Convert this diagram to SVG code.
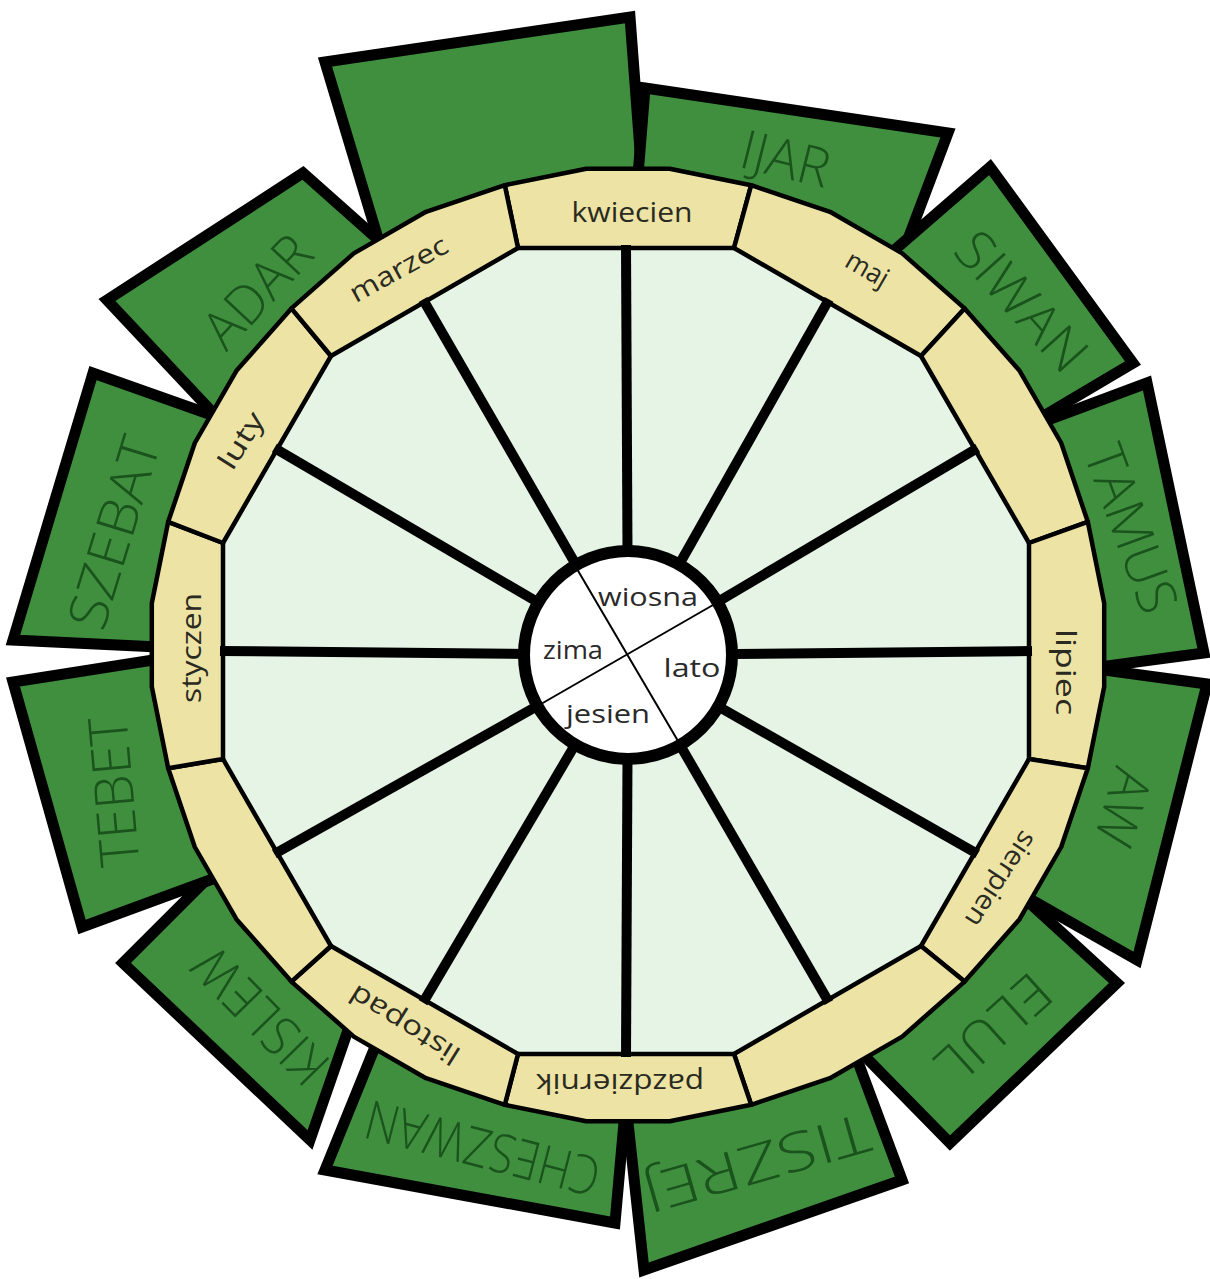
<svg xmlns="http://www.w3.org/2000/svg" width="1210" height="1279" viewBox="0 0 1210 1279">
<style>
.box{fill:#3f8f3f;stroke:#000;stroke-width:11;stroke-linejoin:miter}
.heb{font-family:"Open Sans","Liberation Sans",sans-serif;font-weight:300;font-size:54px;fill:#1a531c;text-anchor:middle;dominant-baseline:central}
.seg{fill:#ece3a5;stroke:#000;stroke-width:4.5;stroke-linejoin:round}
.lbl{font-family:"Open Sans","Liberation Sans",sans-serif;font-size:27px;fill:#2a2a20;text-anchor:middle;dominant-baseline:central}
.ctr{font-family:"Open Sans","Liberation Sans",sans-serif;font-size:25px;fill:#2a2a2a;text-anchor:middle;dominant-baseline:central}
.spoke{stroke:#000;stroke-width:10}
</style>
<rect width="1210" height="1279" fill="#fff"/>
<g id="hebrew-months">
<g id="box-blank"><polygon class="box" points="325,62 630,17 646,230 392,285"/></g>
<g id="box-ijar"><polygon class="box" points="645,88 948,133 885,300 634,225"/><text class="heb" transform="translate(786,157) rotate(14)" textLength="90" lengthAdjust="spacingAndGlyphs">IJAR</text></g>
<g id="box-siwan"><polygon class="box" points="990,167 1133,363 1010,436 860,280"/><text class="heb" transform="translate(1023,300) rotate(48)" textLength="168" lengthAdjust="spacingAndGlyphs">SIWAN</text></g>
<g id="box-tamus"><polygon class="box" points="1147,383 1204,653 1070,671 1010,434"/><text class="heb" transform="translate(1133,528) rotate(70)" textLength="175" lengthAdjust="spacingAndGlyphs">TAMUS</text></g>
<g id="box-aw"><polygon class="box" points="1207,684 1137,960 1000,882 1075,666"/><text class="heb" transform="translate(1125,808) rotate(107)" textLength="78" lengthAdjust="spacingAndGlyphs">AW</text></g>
<g id="box-elul"><polygon class="box" points="1117,983 950,1143 845,1036 1010,885"/><text class="heb" transform="translate(995,1030) rotate(138)" textLength="135" lengthAdjust="spacingAndGlyphs">ELUL</text></g>
<g id="box-tiszrej"><polygon class="box" points="902,1180 644,1270 625,1095 848,1035"/><text class="heb" transform="translate(757,1165) rotate(164)" textLength="233" lengthAdjust="spacingAndGlyphs">TISZREJ</text></g>
<g id="box-cheszwan"><polygon class="box" points="615,1223 325,1170 388,1015 626,1100"/><text class="heb" transform="translate(482,1150) rotate(194.5)" textLength="240" lengthAdjust="spacingAndGlyphs">CHESZWAN</text></g>
<g id="box-kislew"><polygon class="box" points="123,963 310,1140 355,1010 235,851"/><text class="heb" transform="translate(259,1017) rotate(225.7)" textLength="168" lengthAdjust="spacingAndGlyphs">KISLEW</text></g>
<g id="box-tebet"><polygon class="box" points="13,682 82,927 240,869 185,655"/><text class="heb" transform="translate(112,792) rotate(-95)" textLength="150" lengthAdjust="spacingAndGlyphs">TEBET</text></g>
<g id="box-szebat"><polygon class="box" points="93,373 13,640 180,648 240,425"/><text class="heb" transform="translate(112,532) rotate(-73)" textLength="198" lengthAdjust="spacingAndGlyphs">SZEBAT</text></g>
<g id="box-adar"><polygon class="box" points="107,300 303,173 410,268 245,447"/><text class="heb" transform="translate(256,290) rotate(-47)" textLength="132" lengthAdjust="spacingAndGlyphs">ADAR</text></g>
</g>
<g id="inner-disk"><polygon fill="#e5f4e5" points="518,248 734,248 921,356 1029,543 1029,759 921,946 734,1054 518,1054 331,946 223,759 223,543 331,356"/></g>
<g id="months-ring">
<g id="seg-kwiecien"><polygon class="seg" points="518,248 504.8,185.2 586.3,168.8 669.7,168.8 751.2,185.2 734,248"/><text class="lbl" x="632" y="211" textLength="121" lengthAdjust="spacingAndGlyphs">kwiecien</text></g>
<g id="seg-maj"><polygon class="seg" points="734,248 751.2,185.2 830,211.8 902.2,253.4 964.6,308.4 921,356"/><text class="lbl" transform="translate(868,268) rotate(30)" textLength="45" lengthAdjust="spacingAndGlyphs">maj</text></g>
<g id="seg-60"><polygon class="seg" points="921,356 964.6,308.4 1019.6,370.8 1061.2,443 1087.8,521.8 1029,543"/></g>
<g id="seg-lipiec"><polygon class="seg" points="1029,543 1087.8,521.8 1104.2,603.3 1104.2,686.7 1087.8,768.2 1029,759"/><text class="lbl" transform="translate(1066,672) rotate(90)" textLength="86" lengthAdjust="spacingAndGlyphs">lipiec</text></g>
<g id="seg-sierpien"><polygon class="seg" points="1029,759 1087.8,768.2 1061.2,847 1019.6,919.2 964.6,981.6 921,946"/><text class="lbl" transform="translate(1002,880) rotate(123)" textLength="108" lengthAdjust="spacingAndGlyphs">sierpien</text></g>
<g id="seg-150"><polygon class="seg" points="921,946 964.6,981.6 902.2,1036.6 830,1078.2 751.2,1104.8 734,1054"/></g>
<g id="seg-pazdziernik"><polygon class="seg" points="734,1054 751.2,1104.8 669.7,1121.2 586.3,1121.2 504.8,1104.8 518,1054"/><text class="lbl" transform="translate(620,1084) rotate(180)" textLength="168" lengthAdjust="spacingAndGlyphs">pazdziernik</text></g>
<g id="seg-listopad"><polygon class="seg" points="518,1054 504.8,1104.8 426,1078.2 353.8,1036.6 291.4,981.6 331,946"/><text class="lbl" transform="translate(404,1026) rotate(212)" textLength="125" lengthAdjust="spacingAndGlyphs">listopad</text></g>
<g id="seg-240"><polygon class="seg" points="331,946 291.4,981.6 236.4,919.2 194.8,847 168.2,768.2 223,759"/></g>
<g id="seg-styczen"><polygon class="seg" points="223,759 168.2,768.2 151.8,686.7 151.8,603.3 168.2,521.8 223,543"/><text class="lbl" transform="translate(190,648) rotate(-90)" textLength="110" lengthAdjust="spacingAndGlyphs">styczen</text></g>
<g id="seg-luty"><polygon class="seg" points="223,543 168.2,521.8 194.8,443 236.4,370.8 291.4,308.4 331,356"/><text class="lbl" transform="translate(240,440) rotate(-58)" textLength="62" lengthAdjust="spacingAndGlyphs">luty</text></g>
<g id="seg-marzec"><polygon class="seg" points="331,356 291.4,308.4 353.8,253.4 426,211.8 504.8,185.2 518,248"/><text class="lbl" transform="translate(398,268) rotate(-29)" textLength="108" lengthAdjust="spacingAndGlyphs">marzec</text></g>
</g>
<g id="spokes">
<line class="spoke" x1="628" y1="655" x2="626" y2="245"/>
<line class="spoke" x1="628" y1="655" x2="829" y2="299.4"/>
<line class="spoke" x1="628" y1="655" x2="977.6" y2="448"/>
<line class="spoke" x1="628" y1="655" x2="1032" y2="651"/>
<line class="spoke" x1="628" y1="655" x2="977.6" y2="854"/>
<line class="spoke" x1="628" y1="655" x2="829" y2="1002.6"/>
<line class="spoke" x1="628" y1="655" x2="626" y2="1057"/>
<line class="spoke" x1="628" y1="655" x2="423" y2="1002.6"/>
<line class="spoke" x1="628" y1="655" x2="274.4" y2="854"/>
<line class="spoke" x1="628" y1="655" x2="220" y2="651"/>
<line class="spoke" x1="628" y1="655" x2="274.4" y2="448"/>
<line class="spoke" x1="628" y1="655" x2="423" y2="299.4"/>
</g>
<g id="seasons">
<circle cx="628" cy="655" r="104" fill="#fff" stroke="#000" stroke-width="12"/>
<line x1="577" y1="569" x2="678" y2="741" stroke="#000" stroke-width="2"/>
<line x1="713" y1="605" x2="541" y2="704" stroke="#000" stroke-width="2"/>
<text class="ctr" x="648" y="596" textLength="100" lengthAdjust="spacingAndGlyphs">wiosna</text>
<text class="ctr" x="573" y="649" textLength="60" lengthAdjust="spacingAndGlyphs">zima</text>
<text class="ctr" x="692" y="667" textLength="57" lengthAdjust="spacingAndGlyphs">lato</text>
<text class="ctr" x="608" y="713" textLength="84" lengthAdjust="spacingAndGlyphs">jesien</text>
</g>
</svg>
